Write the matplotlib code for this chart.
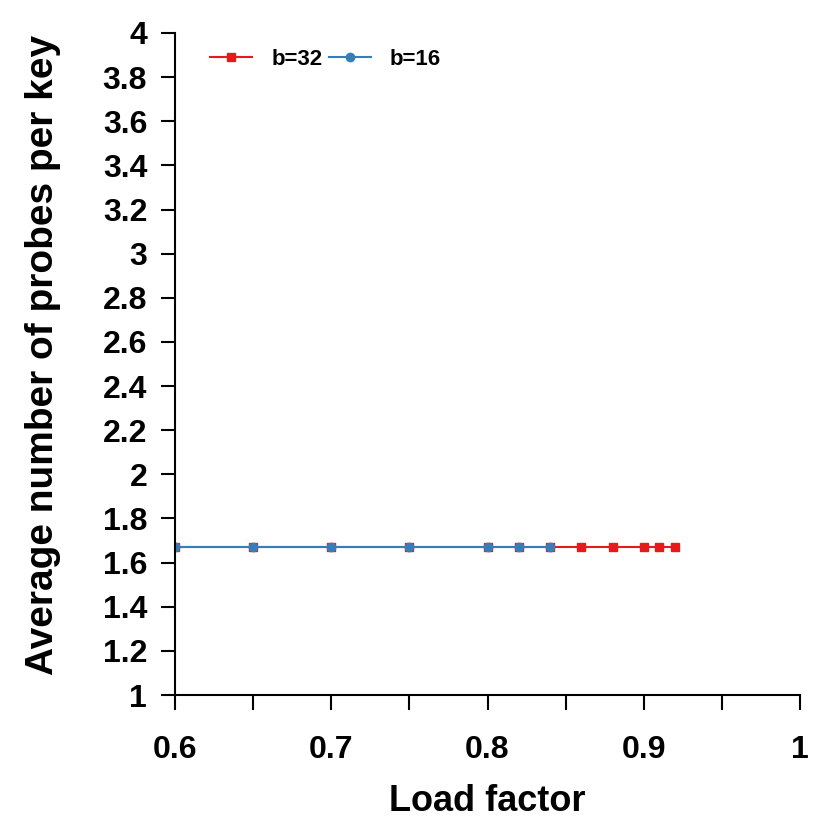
import matplotlib
matplotlib.use("Agg")
import matplotlib.pyplot as plt

x32 = [0.6, 0.65, 0.7, 0.75, 0.8, 0.82, 0.84, 0.86, 0.88, 0.9, 0.91, 0.92]
y32 = [1.67, 1.67, 1.67, 1.67, 1.67, 1.67, 1.67, 1.67, 1.67, 1.67, 1.67, 1.67]
x16 = [0.6, 0.65, 0.7, 0.75, 0.8, 0.82, 0.84]
y16 = [1.67, 1.67, 1.67, 1.67, 1.67, 1.67, 1.67]
xticks = [0.6, 0.65, 0.7, 0.75, 0.8, 0.85, 0.9, 0.95, 1.0]
xlabels = ["0.6", "", "0.7", "", "0.8", "", "0.9", "", "1"]
yticks = [1, 1.2, 1.4, 1.6, 1.8, 2, 2.2, 2.4, 2.6, 2.8, 3, 3.2, 3.4, 3.6, 3.8, 4]
ylabels = ["1", "1.2", "1.4", "1.6", "1.8", "2", "2.2", "2.4", "2.6", "2.8", "3", "3.2", "3.4", "3.6", "3.8", "4"]

plt.rcParams['font.family'] = ['Liberation Sans', 'DejaVu Sans']
plt.rcParams['font.weight'] = 'bold'

fig = plt.figure(figsize=(8.3, 8.3), dpi=100)
ax = fig.add_axes([175/830, 135/830, 625/830, 662/830])

ax.plot(x32, y32, color='#e41a1c', marker='s', markersize=6, linewidth=1.5, label='b=32')
ax.plot(x16, y16, color='#377eb8', marker='o', markersize=6, linewidth=1.5, label='b=16')

ax.set_xlim(0.6, 1.0)
ax.set_ylim(1, 4)
ax.set_xticks(xticks)
ax.set_xticklabels(xlabels)
ax.set_yticks(yticks)
ax.set_yticklabels(ylabels)
for s in ['top', 'right']:
    ax.spines[s].set_visible(False)
for s in ['left', 'bottom']:
    ax.spines[s].set_linewidth(1.5)
ax.tick_params(axis='x', direction='out', length=11, width=1.5, pad=18, labelsize=23)
ax.tick_params(axis='y', direction='out', length=10, width=1.5, pad=10, labelsize=23)
for t in ax.get_xticklabels() + ax.get_yticklabels():
    t.set_fontweight('bold')

ax.set_xlabel('Load factor', fontsize=26, fontweight='bold')
ax.set_ylabel('Average number of probes per key', fontsize=28, fontweight='bold')
ax.xaxis.set_label_coords(0.5, (695 - 784) / 662)
ax.yaxis.set_label_coords((61 - 175) / 625, (695 - 355) / 662)

leg = ax.legend(loc='upper left', ncol=2, frameon=False, fontsize=16,
                bbox_to_anchor=((210 - 175) / 625, (695 - 49) / 662),
                handlelength=1.9, handletextpad=0.85, columnspacing=0.3,
                borderpad=0, borderaxespad=0)
for t in leg.get_texts():
    t.set_fontweight('bold')

fig.savefig('out.png', dpi=100)
